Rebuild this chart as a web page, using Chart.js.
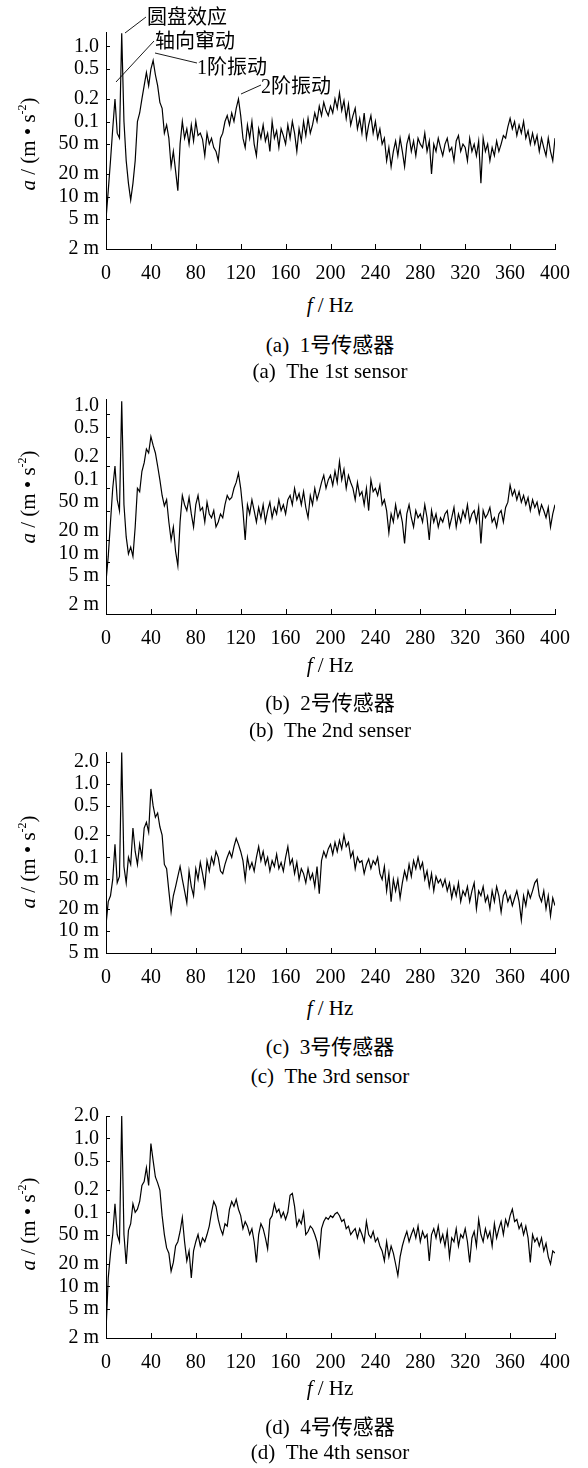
<!DOCTYPE html>
<html>
<head>
<meta charset="utf-8">
<script src="https://cdn.jsdelivr.net/npm/chart.js"></script>
<style>
  body { margin: 0; background: #fff; width: 588px; height: 1468px; position: relative; overflow: hidden;
         font-family: "Liberation Serif", "Noto Sans CJK SC", serif; color: #000; }
  canvas { position: absolute; left: 0; }
  .t { position: absolute; white-space: nowrap; font-size: 21px; line-height: 1; }
  .mid { left: 330px; transform: translate(-50%, -50%); }
  .ytitle { position: absolute; left: 27px; white-space: nowrap; font-size: 21px; line-height: 1;
            transform: translate(-50%, -50%) rotate(-90deg); }
  .ytitle sup { font-size: 12px; vertical-align: 9px; }
  .note { position: absolute; white-space: nowrap; font-size: 20px; line-height: 1; transform: translateY(-50%); }
  svg { position: absolute; left: 0; top: 0; }
</style>
</head>
<body>

<canvas id="cA" width="588" height="276" style="top:13px"></canvas>
<canvas id="cB" width="588" height="274" style="top:380px"></canvas>
<canvas id="cC" width="588" height="260" style="top:733px"></canvas>
<canvas id="cD" width="588" height="281" style="top:1097px"></canvas>

<!-- annotation leaders, panel (a) -->
<svg width="588" height="120">
  <g stroke="#000" stroke-width="0.9" fill="none">
    <line x1="125" y1="33" x2="146" y2="17"/>
    <line x1="116" y1="82" x2="154" y2="41"/>
    <line x1="155" y1="53" x2="197" y2="63"/>
    <line x1="241" y1="94" x2="261" y2="85"/>
  </g>
</svg>
<div class="note" style="left:147px;top:17px">圆盘效应</div>
<div class="note" style="left:155px;top:41px">轴向窜动</div>
<div class="note" style="left:197px;top:67px">1阶振动</div>
<div class="note" style="left:261px;top:86px">2阶振动</div>

<div class="ytitle" style="top:144px"><i>a</i> / (m • s<sup>-2</sup>)</div>
<div class="ytitle" style="top:497px"><i>a</i> / (m • s<sup>-2</sup>)</div>
<div class="ytitle" style="top:862px"><i>a</i> / (m • s<sup>-2</sup>)</div>
<div class="ytitle" style="top:1224px"><i>a</i> / (m • s<sup>-2</sup>)</div>

<div class="t mid" style="top:305px"><i>f</i> / Hz</div>
<div class="t mid" style="top:345px">(a)&nbsp;&nbsp;1号传感器</div>
<div class="t mid" style="top:371px">(a)&nbsp;&nbsp;The 1st sensor</div>

<div class="t mid" style="top:665px"><i>f</i> / Hz</div>
<div class="t mid" style="top:703px">(b)&nbsp;&nbsp;2号传感器</div>
<div class="t mid" style="top:730px">(b)&nbsp;&nbsp;The 2nd senser</div>

<div class="t mid" style="top:1008px"><i>f</i> / Hz</div>
<div class="t mid" style="top:1047px">(c)&nbsp;&nbsp;3号传感器</div>
<div class="t mid" style="top:1076px">(c)&nbsp;&nbsp;The 3rd sensor</div>

<div class="t mid" style="top:1388px"><i>f</i> / Hz</div>
<div class="t mid" style="top:1427px">(d)&nbsp;&nbsp;4号传感器</div>
<div class="t mid" style="top:1452px">(d)&nbsp;&nbsp;The 4th sensor</div>

<script>
// ─── DATA ───────────────────────────────────────────────
// spectrum bins, Hz
const freqHz = [
  0, 2, 4, 6, 8, 10, 12, 14, 16, 18,
  20, 22, 24, 26, 28, 30, 32, 34, 36, 38,
  40, 42, 44, 46, 48, 50, 52, 54, 56, 58,
  60, 62, 64, 66, 68, 70, 72, 74, 76, 78,
  80, 82, 84, 86, 88, 90, 92, 94, 96, 98,
  100, 102, 104, 106, 108, 110, 112, 114, 116, 118,
  120, 122, 124, 126, 128, 130, 132, 134, 136, 138,
  140, 142, 144, 146, 148, 150, 152, 154, 156, 158,
  160, 162, 164, 166, 168, 170, 172, 174, 176, 178,
  180, 182, 184, 186, 188, 190, 192, 194, 196, 198,
  200, 202, 204, 206, 208, 210, 212, 214, 216, 218,
  220, 222, 224, 226, 228, 230, 232, 234, 236, 238,
  240, 242, 244, 246, 248, 250, 252, 254, 256, 258,
  260, 262, 264, 266, 268, 270, 272, 274, 276, 278,
  280, 282, 284, 286, 288, 290, 292, 294, 296, 298,
  300, 302, 304, 306, 308, 310, 312, 314, 316, 318,
  320, 322, 324, 326, 328, 330, 332, 334, 336, 338,
  340, 342, 344, 346, 348, 350, 352, 354, 356, 358,
  360, 362, 364, 366, 368, 370, 372, 374, 376, 378,
  380, 382, 384, 386, 388, 390, 392, 394, 396, 398,
  400
];

// acceleration amplitude, m/s^2
const sensor1 = [
  0.005, 0.012, 0.03, 0.08, 0.2, 0.07, 0.06, 1.5, 0.1, 0.03,
  0.015, 0.009, 0.015, 0.03, 0.1, 0.13, 0.2, 0.3, 0.45, 0.3,
  0.5, 0.65, 0.42, 0.3, 0.18, 0.15, 0.07, 0.09, 0.06, 0.025,
  0.04, 0.022, 0.012, 0.05, 0.1, 0.06, 0.08, 0.05, 0.09, 0.055,
  0.1, 0.065, 0.07, 0.058, 0.035, 0.07, 0.05, 0.06, 0.045, 0.04,
  0.03, 0.06, 0.07, 0.1, 0.12, 0.09, 0.13, 0.1, 0.15, 0.2,
  0.12, 0.06, 0.045, 0.09, 0.06, 0.1, 0.05, 0.035, 0.08, 0.06,
  0.09, 0.055, 0.07, 0.04, 0.1, 0.06, 0.075, 0.045, 0.08, 0.065,
  0.05, 0.09, 0.06, 0.1, 0.07, 0.04, 0.08, 0.055, 0.1, 0.065,
  0.11, 0.07, 0.09, 0.13, 0.1, 0.16, 0.12, 0.18, 0.14, 0.12,
  0.16, 0.13, 0.2, 0.15, 0.24, 0.14, 0.19, 0.11, 0.17, 0.09,
  0.12, 0.15, 0.08, 0.11, 0.07, 0.13, 0.06, 0.09, 0.12, 0.07,
  0.1, 0.06, 0.08, 0.05, 0.06, 0.03, 0.045, 0.025, 0.04, 0.055,
  0.035, 0.06, 0.04, 0.025, 0.05, 0.065, 0.04, 0.055, 0.035, 0.06,
  0.05, 0.045, 0.07, 0.04, 0.055, 0.02, 0.05, 0.04, 0.06, 0.045,
  0.035, 0.05, 0.06, 0.04, 0.045, 0.03, 0.055, 0.065, 0.04, 0.05,
  0.045, 0.03, 0.06, 0.04, 0.05, 0.035, 0.055, 0.015, 0.06, 0.04,
  0.05, 0.03, 0.045, 0.035, 0.055, 0.04, 0.05, 0.065, 0.06, 0.085,
  0.11, 0.08, 0.1, 0.065, 0.09, 0.07, 0.1, 0.06, 0.075, 0.05,
  0.07, 0.05, 0.065, 0.04, 0.06, 0.045, 0.035, 0.06, 0.04, 0.03,
  0.06
];

const sensor2 = [
  0.0055, 0.012, 0.035, 0.1, 0.2, 0.07, 0.05, 1.5, 0.06, 0.022,
  0.013, 0.016, 0.012, 0.03, 0.1, 0.09, 0.17, 0.22, 0.34, 0.3,
  0.5, 0.38, 0.3, 0.2, 0.13, 0.08, 0.058, 0.07, 0.035, 0.02,
  0.03, 0.014, 0.009, 0.035, 0.08, 0.06, 0.05, 0.075, 0.045, 0.03,
  0.06, 0.08, 0.05, 0.055, 0.035, 0.065, 0.045, 0.04, 0.05, 0.03,
  0.035, 0.045, 0.04, 0.06, 0.08, 0.07, 0.075, 0.1, 0.12, 0.16,
  0.1, 0.05, 0.02, 0.06, 0.045, 0.07, 0.05, 0.035, 0.055, 0.04,
  0.06, 0.035, 0.05, 0.065, 0.04, 0.055, 0.045, 0.07, 0.05, 0.06,
  0.045, 0.07, 0.08, 0.06, 0.1, 0.07, 0.085, 0.06, 0.09, 0.055,
  0.04, 0.08, 0.06, 0.1, 0.07, 0.09, 0.12, 0.15, 0.1, 0.13,
  0.15, 0.11, 0.17, 0.12, 0.23, 0.13, 0.18, 0.1, 0.15, 0.12,
  0.1, 0.07, 0.12, 0.08, 0.09, 0.06, 0.1, 0.05, 0.13, 0.09,
  0.1, 0.08, 0.11, 0.06, 0.07, 0.05, 0.025, 0.045, 0.035, 0.06,
  0.04, 0.05, 0.035, 0.018, 0.045, 0.06, 0.04, 0.03, 0.05, 0.04,
  0.045, 0.035, 0.06, 0.04, 0.02, 0.05, 0.035, 0.045, 0.03, 0.04,
  0.035, 0.045, 0.05, 0.03, 0.04, 0.055, 0.03, 0.045, 0.035, 0.05,
  0.04, 0.06, 0.035, 0.045, 0.05, 0.035, 0.055, 0.018, 0.05, 0.04,
  0.045, 0.055, 0.035, 0.04, 0.03, 0.045, 0.05, 0.035, 0.055, 0.065,
  0.11, 0.08, 0.095, 0.07, 0.09, 0.065, 0.08, 0.06, 0.075, 0.05,
  0.07, 0.055, 0.065, 0.045, 0.06, 0.05, 0.04, 0.055, 0.03, 0.045,
  0.06
];

const sensor3 = [
  0.012, 0.025, 0.03, 0.05, 0.15, 0.045, 0.055, 2.65, 0.075, 0.045,
  0.1, 0.08, 0.25, 0.12, 0.08, 0.15, 0.1, 0.25, 0.3, 0.22,
  0.85, 0.5, 0.35, 0.4, 0.26, 0.2, 0.08, 0.07, 0.035, 0.018,
  0.03, 0.04, 0.055, 0.075, 0.05, 0.035, 0.024, 0.065, 0.04, 0.03,
  0.07, 0.05, 0.085, 0.06, 0.04, 0.09, 0.065, 0.1, 0.08, 0.12,
  0.1, 0.065, 0.06, 0.08, 0.1, 0.12, 0.1, 0.14, 0.18, 0.15,
  0.12, 0.09, 0.05, 0.1, 0.07, 0.085, 0.065, 0.1, 0.14, 0.09,
  0.12, 0.08, 0.1, 0.065, 0.09, 0.075, 0.11, 0.07, 0.085, 0.065,
  0.1, 0.14, 0.08, 0.095, 0.06, 0.085, 0.05, 0.07, 0.06, 0.045,
  0.07, 0.05, 0.06, 0.04, 0.075, 0.032, 0.09, 0.12, 0.1, 0.13,
  0.15, 0.11, 0.16, 0.12, 0.17, 0.13, 0.2, 0.14, 0.16, 0.1,
  0.12, 0.07, 0.1, 0.085, 0.09, 0.06, 0.08, 0.095, 0.07, 0.09,
  0.08, 0.1, 0.06, 0.05, 0.075, 0.035, 0.06, 0.025, 0.05, 0.035,
  0.05, 0.028, 0.045, 0.065, 0.05, 0.08, 0.055, 0.09, 0.07, 0.1,
  0.07, 0.085, 0.05, 0.065, 0.04, 0.06, 0.035, 0.055, 0.045, 0.05,
  0.04, 0.05, 0.035, 0.045, 0.028, 0.04, 0.03, 0.045, 0.025, 0.035,
  0.03, 0.04, 0.025, 0.035, 0.045, 0.02, 0.035, 0.03, 0.04, 0.025,
  0.03, 0.02, 0.035, 0.025, 0.04, 0.03, 0.018, 0.03, 0.035, 0.025,
  0.03, 0.022, 0.028, 0.035, 0.025, 0.014, 0.03, 0.022, 0.035, 0.028,
  0.035, 0.045, 0.05, 0.03, 0.025, 0.035, 0.02, 0.03, 0.016, 0.028,
  0.022
];

const sensor4 = [
  0.0025, 0.013, 0.028, 0.05, 0.13, 0.05, 0.04, 2.0, 0.05, 0.02,
  0.057, 0.07, 0.13, 0.1, 0.11, 0.14, 0.23, 0.26, 0.4, 0.23,
  0.85, 0.5, 0.3, 0.25, 0.2, 0.09, 0.05, 0.033, 0.028, 0.016,
  0.021, 0.035, 0.04, 0.055, 0.085, 0.04, 0.022, 0.03, 0.013, 0.03,
  0.04, 0.05, 0.035, 0.045, 0.04, 0.05, 0.065, 0.1, 0.14, 0.12,
  0.08, 0.06, 0.05, 0.07, 0.065, 0.11, 0.14, 0.12, 0.15, 0.11,
  0.09, 0.06, 0.075, 0.065, 0.05, 0.06, 0.04, 0.021, 0.05, 0.07,
  0.06, 0.045, 0.032, 0.08, 0.09, 0.13, 0.1, 0.11, 0.085, 0.1,
  0.08, 0.1, 0.17, 0.18, 0.12, 0.065, 0.08, 0.07, 0.1, 0.05,
  0.055, 0.065, 0.06, 0.05, 0.04, 0.026, 0.06, 0.075, 0.085, 0.08,
  0.09, 0.085, 0.095, 0.1, 0.09, 0.075, 0.08, 0.06, 0.065, 0.05,
  0.055, 0.06, 0.045, 0.06, 0.05, 0.04, 0.075, 0.05, 0.045, 0.055,
  0.04, 0.045, 0.035, 0.03, 0.022, 0.04, 0.025, 0.035, 0.028, 0.02,
  0.014, 0.025, 0.035, 0.045, 0.055, 0.04, 0.05, 0.06, 0.045, 0.065,
  0.04, 0.055, 0.045, 0.05, 0.022, 0.05, 0.06, 0.045, 0.065, 0.04,
  0.05, 0.035, 0.055, 0.025, 0.045, 0.04, 0.06, 0.035, 0.05, 0.045,
  0.06, 0.04, 0.021, 0.045, 0.055, 0.035, 0.08, 0.05, 0.04, 0.06,
  0.045, 0.055, 0.035, 0.07, 0.045, 0.06, 0.075, 0.05, 0.08, 0.065,
  0.09, 0.11, 0.075, 0.08, 0.06, 0.07, 0.05, 0.065, 0.045, 0.021,
  0.05, 0.04, 0.045, 0.035, 0.045, 0.03, 0.038, 0.025, 0.02, 0.03,
  0.028
];

// tick labels
const xTicks = [0, 40, 80, 120, 160, 200, 240, 280, 320, 360, 400];
const yTicksLow = [0.002, 0.005, 0.01, 0.02, 0.05, 0.1, 0.2, 0.5, 1.0];
const yTicksC = [0.005, 0.01, 0.02, 0.05, 0.1, 0.2, 0.5, 1.0, 2.0];
const yTicksD = [0.002, 0.005, 0.01, 0.02, 0.05, 0.1, 0.2, 0.5, 1.0, 2.0];

// ─── HELPERS ────────────────────────────────────────────
function fmtAccel(v) {
    if (v < 0.1) return Math.round(v * 1000) + ' m';
    return v.toFixed(1);
}

// small inward ticks on both axes
const innerTicks = {
    id: 'innerTicks',
    afterDraw(chart) {
        const { ctx, chartArea: a, scales: { x, y } } = chart;
        ctx.save();
        ctx.strokeStyle = '#000';
        ctx.lineWidth = 1;
        ctx.beginPath();
        x.ticks.forEach(t => {
            const px = Math.round(x.getPixelForValue(t.value)) + 0.5;
            ctx.moveTo(px, a.bottom);
            ctx.lineTo(px, a.bottom - 5);
        });
        y.ticks.forEach(t => {
            const py = Math.round(y.getPixelForValue(t.value)) + 0.5;
            ctx.moveTo(a.left, py);
            ctx.lineTo(a.left + 4, py);
        });
        ctx.stroke();
        ctx.restore();
    }
};

function makeChart(id, values, yTicks, yMin, yMax, labelShift) {
    const points = freqHz.map((f, i) => ({ x: f, y: values[i] }));
    new Chart(document.getElementById(id), {
        type: 'line',
        data: {
            datasets: [{
                data: points,
                borderColor: '#000',
                borderWidth: 1.2,
                pointRadius: 0,
                tension: 0
            }]
        },
        options: {
            responsive: false,
            animation: false,
            devicePixelRatio: 1,
            layout: { padding: { top: 10, right: 33, left: 0, bottom: 0 } },
            plugins: { legend: { display: false }, tooltip: { enabled: false } },
            scales: {
                x: {
                    type: 'linear', min: 0, max: 400,
                    afterBuildTicks: s => { s.ticks = xTicks.map(v => ({ value: v })); },
                    afterFit: s => { s.height = 40; },
                    grid: { display: false, drawTicks: false },
                    border: { display: true, color: '#000', width: 1 },
                    ticks: { color: '#000', padding: 13, maxRotation: 0, autoSkip: false,
                             font: { family: 'Liberation Serif', size: 20 } }
                },
                y: {
                    type: 'logarithmic', min: yMin, max: yMax,
                    afterBuildTicks: s => { s.ticks = yTicks.map(v => ({ value: v })); },
                    afterFit: s => { s.width = 106; },
                    grid: { display: false, drawTicks: false },
                    border: { display: true, color: '#000', width: 1 },
                    ticks: { color: '#000', padding: 7, labelOffset: labelShift, autoSkip: false,
                             callback: v => fmtAccel(v),
                             font: { family: 'Liberation Serif', size: 20 } }
                }
            }
        },
        plugins: [innerTicks]
    });
}

makeChart('cA', sensor1, yTicksLow, 0.002, 1.56, 0);
makeChart('cB', sensor2, yTicksLow, 0.002, 1.61, -9);
makeChart('cC', sensor3, yTicksC, 0.005, 2.7, 0);
makeChart('cD', sensor4, yTicksD, 0.002, 2.0, 0);
</script>
</body>
</html>
